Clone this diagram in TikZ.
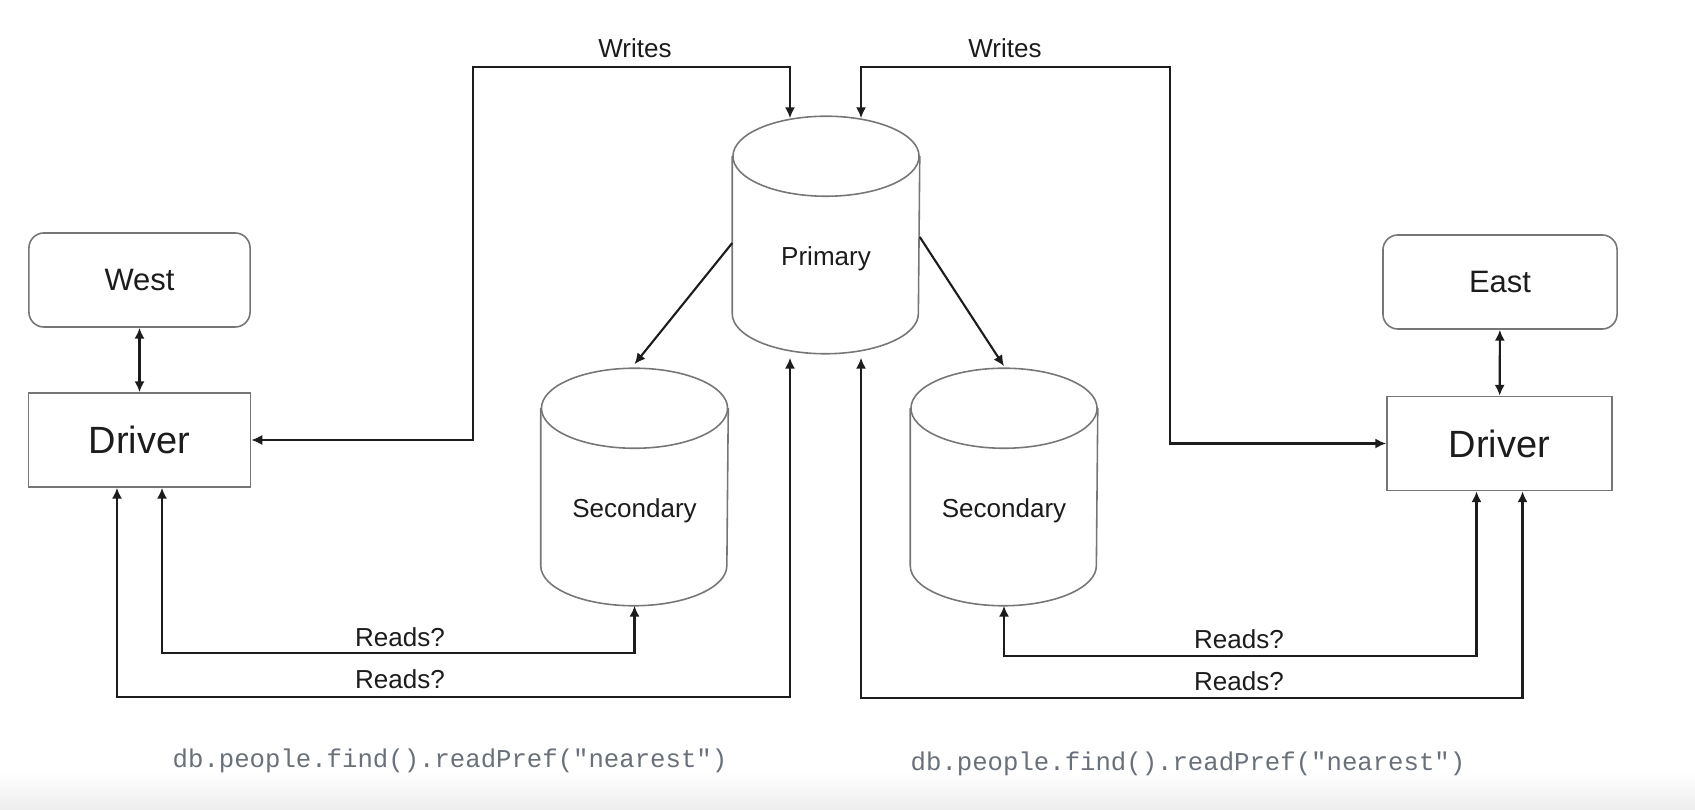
\documentclass[tikz,border=0pt]{standalone}
\usepackage{fontspec}
\setmainfont{Liberation Sans}
\newfontfamily\codefont{Liberation Mono}
\usetikzlibrary{arrows.meta}
\definecolor{edgegray}{RGB}{118,118,118}
\definecolor{codegray}{RGB}{105,112,122}
\definecolor{ink}{RGB}{28,28,28}

\tikzset{
    region/.style={draw=edgegray, line width=0.45pt, rounded corners=0.15cm, text=ink,
        minimum width=2.21cm, minimum height=0.94cm, font=\fontsize{8.8}{10}\selectfont},
    driverbox/.style={draw=edgegray, line width=0.45pt, text=ink,
        minimum width=2.22cm, minimum height=0.94cm, font=\fontsize{10.8}{12}\selectfont},
    dbnode/.style={minimum width=1.86cm, minimum height=1.96cm, text=ink,
        text height=6pt, text depth=0pt, font=\fontsize{7.4}{9}\selectfont},
    dbline/.style={draw=edgegray, line width=0.45pt},
    lbl/.style={text=ink, font=\fontsize{7.4}{9}\selectfont},
    code/.style={text=codegray, font=\codefont\fontsize{7.3}{9}\selectfont},
    link/.style={ink, line width=0.6pt,
        {Latex[length=3.1pt,width=2.9pt]}-{Latex[length=3.1pt,width=2.9pt]}},
    feed/.style={ink, line width=0.6pt, -{Latex[length=3.1pt,width=2.9pt]}}
}

\begin{document}
\begin{tikzpicture}[x=0.01cm, y=-0.01cm]
    \useasboundingbox (0,0) rectangle (1695,810);
    \shade[top color=white, bottom color=black!7] (0,772) rectangle (1695,810);

    % LEFT: West region and its driver
    \node[region] (west) at (139.5,280) {West};
    \node[driverbox] (drvw) at (139.5,440) {Driver};

    % RIGHT: East region and its driver
    \node[region, minimum width=2.34cm] (east) at (1500,282) {East};
    \node[driverbox, minimum width=2.25cm] (drve) at (1499.5,443.5) {Driver};

    % MIDDLE: Replica set
    \node[dbnode] (pri) at (826,255) {Primary};
    \node[dbnode] (secw) at (634.5,507) {Secondary};
    \node[dbnode] (sece) at (1004,507) {Secondary};
    \foreach \dbname in {pri,secw,sece} {
        \draw[dbline] (\dbname.north west) -- ([yshift=0.4cm]\dbname.south west)
            arc[start angle=180, end angle=360, x radius=0.93cm, y radius=0.4cm]
            -- (\dbname.north east);
        \draw[dbline] (\dbname.north) ellipse [x radius=0.93cm, y radius=0.4cm];
    }

    % App <-> driver
    \draw[link] (west) -- (drvw);
    \draw[link] (east) -- (drve);

    % Writes go to the primary
    \coordinate (wl) at (473,67);
    \coordinate (wr) at (1170,67);
    \draw[link] (drvw.east) -| (wl) -| ([xshift=-0.36cm, yshift=0.38cm]pri.north);
    \draw[link] (drve.west) -| (wr) -| ([xshift=0.35cm, yshift=0.38cm]pri.north);
    \node[lbl] (wlbl) at (635,48) {Writes};
    \node[lbl] (wrlbl) at (1005,48) {Writes};

    % Replication
    \draw[feed] ([yshift=0.12cm]pri.west) -- ([yshift=0.44cm]secw.north);
    \draw[feed] ([yshift=0.18cm]pri.east) -- ([yshift=0.42cm]sece.north);

    % Reads (West)
    \coordinate (rw1) at (400,653);
    \coordinate (rw2) at (400,697);
    \draw[link] ([xshift=0.225cm]drvw.south) |- (rw1) -| (secw.south);
    \draw[link] ([xshift=-0.225cm]drvw.south) |- (rw2) -| ([xshift=-0.36cm, yshift=-0.04cm]pri.south);
    \node[lbl] (rwl1) at (400,637) {Reads?};
    \node[lbl] (rwl2) at (400,679) {Reads?};

    % Reads (East)
    \coordinate (re1) at (1239,656);
    \coordinate (re2) at (1239,698);
    \draw[link] ([xshift=-0.23cm]drve.south) |- (re1) -| (sece.south);
    \draw[link] ([xshift=0.23cm]drve.south) |- (re2) -| ([xshift=0.35cm, yshift=-0.04cm]pri.south);
    \node[lbl] (rel1) at (1239,639) {Reads?};
    \node[lbl] (rel2) at (1239,681) {Reads?};

    % Read preference
    \node[code] (qw) at (450,761) {db.people.find().readPref("nearest")};
    \node[code] (qe) at (1188,764) {db.people.find().readPref("nearest")};
\end{tikzpicture}
\end{document}
